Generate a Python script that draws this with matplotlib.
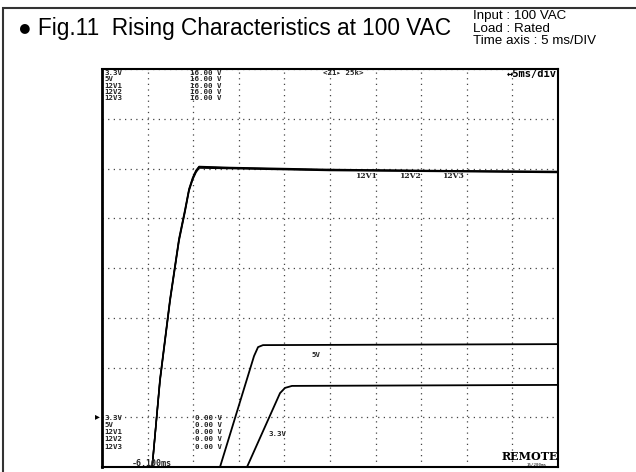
import matplotlib.pyplot as plt
from matplotlib.patches import Rectangle

# scope screen: 5 ms/div x 10 div, 2 V/div x 8 div
t_12v = [0, 5.5, 6.36, 7.46, 8.44, 9.10, 9.54, 9.95, 10.3, 10.64, 14.0, 25.0, 38.0, 50.0]
v_12v1 = [0, 0, 3.5, 6.71, 9.13, 10.30, 11.14, 11.60, 11.88, 12.06, 12.02, 11.94, 11.90, 11.86]
v_12v2 = [0, 0, 3.45, 6.66, 9.08, 10.25, 11.10, 11.56, 11.84, 12.02, 12.00, 11.92, 11.88, 11.84]
v_12v3 = [0, 0, 3.55, 6.76, 9.18, 10.35, 11.18, 11.64, 11.92, 12.08, 12.04, 11.96, 11.91, 11.88]

t_5v = [0, 12.94, 16.67, 17.11, 17.65, 50.0]
v_5v = [0, 0, 4.46, 4.82, 4.90, 4.94]

t_3v3 = [0, 15.90, 19.52, 20.07, 20.83, 50.0]
v_3v3 = [0, 0, 2.97, 3.18, 3.26, 3.30]

channels = ['3.3V', '5V', '12V1', '12V2', '12V3']
full_scale = ['16.00 V'] * 5
offsets = ['0.00 V'] * 5

W, H = 636, 472
fig = plt.figure(figsize=(W / 100, H / 100), dpi=100)

# outer frame (top and left edges visible)
fig.add_artist(Rectangle((3 / W, -0.2), 1.2, 1.2 - 8 / H, transform=fig.transFigure,
                         fill=False, edgecolor='#333333', linewidth=1.5))

fig.text(18 / W, 1 - 28 / H, '● Fig.11  Rising Characteristics at 100 VAC',
         fontsize=16.3, family='Liberation Sans', va='center', ha='left')
head = dict(fontsize=9.6, family='Liberation Sans', va='baseline', ha='left')
fig.text(473 / W, 1 - 19.5 / H, 'Input : 100 VAC', **head)
fig.text(473 / W, 1 - 32 / H, 'Load : Rated', **head)
fig.text(473 / W, 1 - 44.5 / H, 'Time axis : 5 ms/DIV', **head)

ax = fig.add_axes([102 / W, 5 / H, 456 / W, 398 / H])
ax.set_xlim(0, 50)
ax.set_ylim(0, 16)
ax.set_xticks(range(0, 51, 5))
ax.set_yticks(range(0, 17, 2))
ax.tick_params(length=0, labelbottom=False, labelleft=False)
ax.grid(True, color='#444444', linewidth=0.9, linestyle=(0, (1, 3.5)))
for s in ax.spines.values():
    s.set_linewidth(1.5)
ax.spines['left'].set_linewidth(2)

for v in (v_12v1, v_12v2, v_12v3):
    ax.plot(t_12v, v, color='black', linewidth=1.1, clip_on=False)
ax.plot(t_5v, v_5v, color='black', linewidth=1.3)
ax.plot(t_3v3, v_3v3, color='black', linewidth=1.3)

mono = dict(family='DejaVu Sans Mono', fontweight='bold', fontsize=5.3, color='#222222')
for i, name in enumerate(channels):
    ax.text(0.22, 15.83 - i * 0.25, name, ha='left', va='center', **mono)
    ax.text(9.65, 15.83 - i * 0.25, full_scale[i], ha='left', va='center', **mono)
    ax.text(0.22, 1.98 - i * 0.29, name, ha='left', va='center', **mono)
    ax.text(10.2, 1.98 - i * 0.29, offsets[i], ha='left', va='center', **mono)

ax.text(26.5, 15.84, '<Z1▸ 25k>', ha='center', va='center', **mono)
ax.text(49.9, 15.8, '↔5ms/div', ha='right', va='center', family='DejaVu Sans Mono',
        fontweight='bold', fontsize=7.5)
ax.text(5.48, 0.16, '-6.100ms', ha='center', va='center', family='DejaVu Sans Mono',
        fontweight='bold', fontsize=6, color='#222222')
ax.text(-0.55, 2.05, '▸', ha='center', va='center', fontsize=7, clip_on=False)

for label, tx in zip(['12V1', '12V2', '12V3'], [28.95, 33.77, 38.49]):
    ax.text(tx, 11.70, label, ha='center', va='center',
            family='DejaVu Serif', fontweight='bold', fontsize=5.5, color='#222222')
ax.text(23.46, 4.50, '5V', ha='center', va='center', **mono)
ax.text(19.19, 1.33, '3.3V', ha='center', va='center', **mono)

ax.text(46.9, 0.42, 'REMOTE', ha='center', va='center', family='DejaVu Serif',
        fontweight='bold', fontsize=8)
ax.text(47.6, 0.08, '15/200ms', ha='center', va='center', family='DejaVu Sans Mono', fontsize=3)

fig.savefig('out.png', dpi=100)
